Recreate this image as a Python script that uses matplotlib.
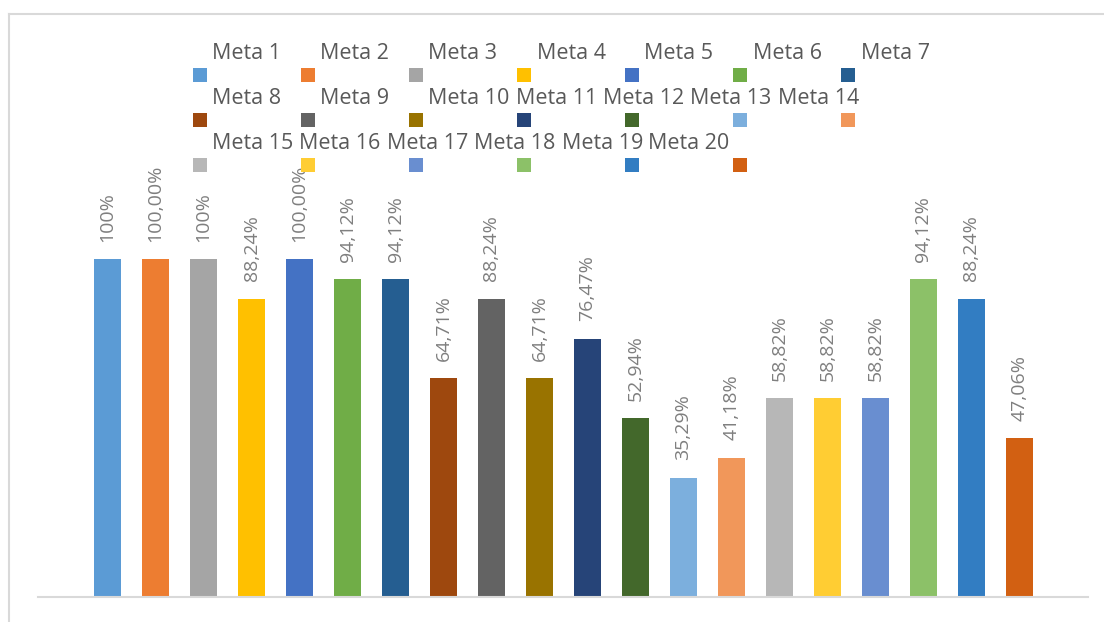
import matplotlib.pyplot as plt
from matplotlib.patches import Rectangle
from matplotlib.lines import Line2D

plt.rcParams['font.family'] = ['Open Sans', 'DejaVu Sans']

metas = ["Meta " + str(i) for i in range(1, 21)]
values = [100, 100, 100, 88.24, 100, 94.12, 94.12, 64.71, 88.24, 64.71,
          76.47, 52.94, 35.29, 41.18, 58.82, 58.82, 58.82, 94.12, 88.24, 47.06]
labels = ["100%", "100,00%", "100%", "88,24%", "100,00%", "94,12%", "94,12%",
          "64,71%", "88,24%", "64,71%", "76,47%", "52,94%", "35,29%", "41,18%",
          "58,82%", "58,82%", "58,82%", "94,12%", "88,24%", "47,06%"]
colors = ["#5B9BD5", "#ED7D31", "#A5A5A5", "#FFC000", "#4472C4", "#70AD47", "#255E91",
          "#9E480E", "#636363", "#997300", "#264478", "#43682B", "#7CAFDD", "#F1975A",
          "#B7B7B7", "#FFCD33", "#698ED0", "#8CC168", "#327DC2", "#D26012"]

W, H = 1104, 622
fig = plt.figure(figsize=(W / 100, H / 100), dpi=100)

# plot area in pixels: baseline y=597, 100% at y=259
top_px = 150
ax = fig.add_axes([38 / W, 1 - 597 / H, (1088 - 38) / W, (597 - top_px) / H])
px_per_unit = (597 - 259) / 100.0
ax.set_ylim(0, (597 - top_px) / px_per_unit)
ax.set_xlim(-1.45, 20.43)

x = list(range(len(values)))
bars = ax.bar(x, values, width=0.56, color=colors)
for b, lab in zip(bars, labels):
    ax.annotate(lab, (b.get_x() + b.get_width() / 2, b.get_height()),
                xytext=(0, 12.5), textcoords="offset points",
                rotation=90, ha="center", va="bottom",
                fontsize=14, color="#7F7F7F")

for s in ["top", "right", "left"]:
    ax.spines[s].set_visible(False)
ax.spines["bottom"].set_color("#D9D9D9")
ax.spines["bottom"].set_linewidth(1.5)
ax.set_xticks([])
ax.set_yticks([])

# legend: text above-right of each colour square
sq_x = [193, 301, 409, 517, 625, 733, 841]
txt_x = [[212, 320, 428, 537, 644, 753, 861],
         [212, 320, 428, 516, 603, 690, 778],
         [212, 299, 387, 474, 562, 648]]
for i, (name, c) in enumerate(zip(metas, colors)):
    r, k = divmod(i, 7)
    base = 59 + 45 * r
    fig.text(txt_x[r][k] / W, 1 - base / H, name, fontsize=15.5,
             color="#595959", ha="left", va="baseline")
    fig.patches.append(Rectangle((sq_x[k] / W, 1 - (base + 23) / H), 14 / W, 14 / H,
                                 transform=fig.transFigure, facecolor=c,
                                 edgecolor="none"))

# chart area border
fig.add_artist(Line2D([9 / W, 9 / W], [0, 1 - 14 / H], transform=fig.transFigure,
                      color="#D9D9D9", lw=1.5))
fig.add_artist(Line2D([9 / W, 1], [1 - 14 / H, 1 - 14 / H], transform=fig.transFigure,
                      color="#D9D9D9", lw=1.5))

fig.savefig("out.png", dpi=100)
